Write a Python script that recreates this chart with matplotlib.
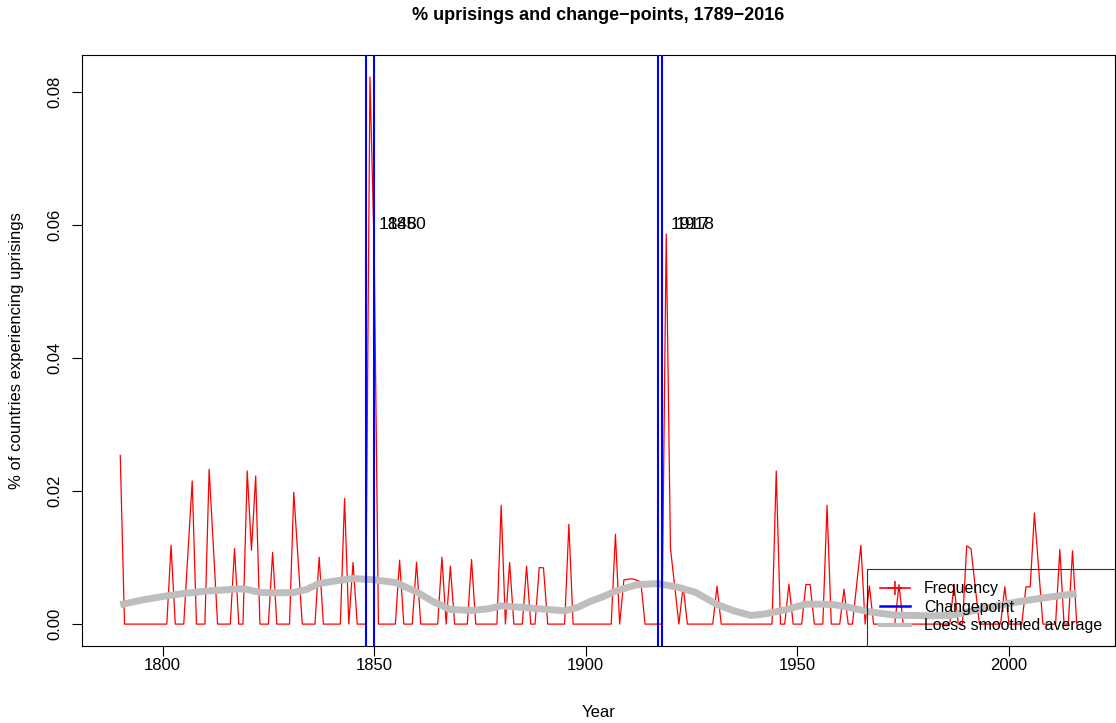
import numpy as np
import matplotlib
matplotlib.use("Agg")
import matplotlib.pyplot as plt
from matplotlib.lines import Line2D
from matplotlib.ticker import FormatStrFormatter

# yearly share of countries with uprisings (per mille)
years = np.arange(1790, 2017)
freq_permille = [
    25.35, 0, 0, 0, 0, 0, 0, 0, 0, 0,           # 1790s
    0, 0, 11.85, 0, 0, 0, 10.75, 21.5, 0, 0,    # 1800s
    0, 23.25, 11.6, 0, 0, 0, 0, 11.35, 0, 0,    # 1810s
    23.0, 11.1, 22.25, 0, 0, 0, 10.75, 0, 0, 0, # 1820s
    0, 19.8, 9.9, 0, 0, 0, 0, 10.05, 0, 0,      # 1830s
    0, 0, 0, 18.85, 0, 9.25, 0, 0, 0, 82.2,     # 1840s
    56.0, 0, 0, 0, 0, 0, 9.6, 0, 0, 0,          # 1850s
    9.3, 0, 0, 0, 0, 0, 10.05, 0, 8.7, 0,       # 1860s
    0, 0, 0, 9.7, 0, 0, 0, 0, 0, 0,             # 1870s
    17.85, 0, 9.25, 0, 0, 0, 8.7, 0, 0, 8.5,    # 1880s
    8.45, 0, 0, 0, 0, 0, 15.0, 0, 0, 0,         # 1890s
    0, 0, 0, 0, 0, 0, 0, 13.5, 0, 6.65,         # 1900s
    6.75, 6.8, 6.6, 6.35, 0, 0, 0, 0, 0, 58.6,  # 1910s
    11.4, 5.7, 0, 5.75, 0, 0, 0, 0, 0, 0,       # 1920s
    0, 5.7, 0, 0, 0, 0, 0, 0, 0, 0,             # 1930s
    0, 0, 0, 0, 0, 23.0, 0, 0, 6.0, 0,          # 1940s
    0, 0, 5.95, 5.95, 0, 0, 0, 17.85, 0, 0,     # 1950s
    0, 5.25, 0, 0, 5.9, 11.85, 0, 5.75, 0, 0,   # 1960s
    0, 0, 0, 0, 5.95, 0, 0, 0, 0, 0,            # 1970s
    0, 0, 0, 0, 0, 0, 0, 5.95, 0, 0,            # 1980s
    11.75, 11.35, 5.7, 0, 0, 0, 0, 0, 0, 5.6,   # 1990s
    0, 0, 0, 0, 5.6, 5.6, 16.7, 8.3, 0, 0,      # 2000s
    0, 0, 11.2, 0, 0, 11.0, 0,                  # 2010s
]
freq = np.array(freq_permille) / 1000

# loess smoothed average (per mille)
loess_years = [1790, 1795, 1801, 1805, 1810, 1815, 1818, 1820, 1823, 1827,
               1831, 1834, 1837, 1841, 1845, 1850, 1855, 1860, 1864, 1868,
               1873, 1877, 1880, 1883, 1886, 1891, 1895, 1898, 1901, 1904,
               1907, 1912, 1917, 1922, 1926, 1931, 1935, 1939, 1942, 1945,
               1948, 1952, 1956, 1959, 1963, 1967, 1970, 1973, 1977, 1981,
               1986, 1990, 1994, 1999, 2004, 2010, 2016]
loess_permille = [2.9, 3.6, 4.25, 4.6, 4.95, 5.15, 5.3, 5.2, 4.75, 4.7,
                  4.75, 5.2, 6.1, 6.5, 6.85, 6.65, 6.25, 4.85, 3.35, 2.2,
                  2.05, 2.3, 2.75, 2.6, 2.45, 2.2, 2.0, 2.5, 3.4, 4.1,
                  4.95, 5.9, 6.1, 5.5, 4.75, 2.95, 2.0, 1.3, 1.5, 1.85,
                  2.3, 3.0, 3.0, 2.9, 2.4, 1.85, 1.6, 1.35, 1.3, 1.25,
                  1.3, 1.8, 2.35, 3.0, 3.55, 4.1, 4.6]
loess = np.array(loess_permille) / 1000

changepoints = [1848, 1850, 1917, 1918]
label_y = 0.06

plt.rcParams['font.family'] = ['Liberation Sans', 'DejaVu Sans']
fs = 12

W, H = 1116, 723
fig = plt.figure(figsize=(W / 100, H / 100), dpi=100)
left, right, top, bottom = 82, 1115, 55, 646
ax = fig.add_axes([left / W, 1 - bottom / H, (right - left) / W, (bottom - top) / H])

ax.plot(years, freq, color='red', lw=0.9, zorder=2)
ax.plot(loess_years, loess, color='#bebebe', lw=5, solid_capstyle='butt', zorder=3)
for cp in changepoints:
    ax.axvline(cp, color='blue', lw=1.5, zorder=4)
    ax.annotate(str(cp), (cp, label_y), xytext=(9.5, 0), textcoords='offset points',
                ha='left', va='center', fontsize=12.5, zorder=5)

# R style axis ranges (4% padding)
xr = years[-1] - years[0]
ax.set_xlim(years[0] - 0.04 * xr, years[-1] + 0.04 * xr)
ax.set_ylim(-0.04 * freq.max(), 1.04 * freq.max())

ax.set_xticks([1800, 1850, 1900, 1950, 2000])
ax.set_yticks([0.0, 0.02, 0.04, 0.06, 0.08])
ax.yaxis.set_major_formatter(FormatStrFormatter('%.2f'))
ax.tick_params(direction='out', length=7, width=0.8, labelsize=fs)
ax.tick_params(axis='x', pad=2)
ax.tick_params(axis='y', pad=7)
for lab in ax.get_yticklabels():
    lab.set_rotation(90)
    lab.set_va('center')
for s in ax.spines.values():
    s.set_linewidth(0.8)

ax.set_xlabel('Year', fontsize=fs, labelpad=23)
ax.set_ylabel('% of countries experiencing uprisings', fontsize=fs, labelpad=17)
ax.text(0.5, 1 + (top - 16) / (bottom - top), '% uprisings and change\u2212points, 1789\u22122016',
        transform=ax.transAxes, ha='center', va='center', fontsize=13, fontweight='bold')

handles = [
    Line2D([], [], color='red', lw=1.2, marker='+', markersize=10, markeredgewidth=1.2),
    Line2D([], [], color='blue', lw=1.8),
    Line2D([], [], color='#bebebe', lw=3),
]
leg = ax.legend(handles, ['Frequency', 'Changepoint', 'Loess smoothed average'],
                loc='lower right', borderaxespad=0, frameon=True, fancybox=False,
                fontsize=11.4, handlelength=1.9, handletextpad=0.9, labelspacing=0.22,
                borderpad=0.8)
leg.get_frame().set_facecolor('none')
leg.get_frame().set_edgecolor('black')
leg.get_frame().set_linewidth(0.8)

fig.savefig('out.png', dpi=100)
